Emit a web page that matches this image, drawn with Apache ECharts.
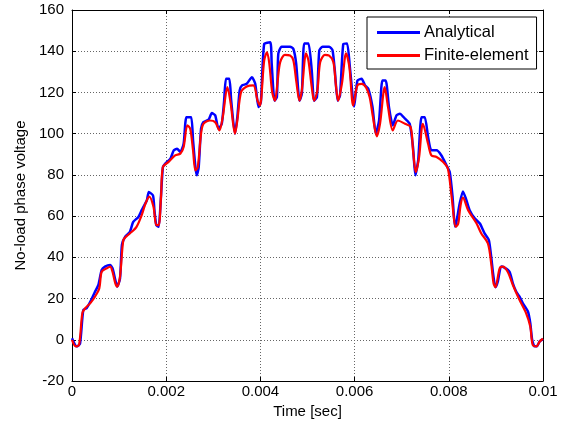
<!DOCTYPE html>
<html>
<head>
<meta charset="utf-8">
<script src="https://cdn.jsdelivr.net/npm/echarts@6/dist/echarts.min.js"></script>
<style>html,body{margin:0;padding:0;background:#fff}#c{width:569px;height:432px}</style>
</head>
<body>
<div id="c"></div>
<script>
var xTicks = [0, 0.002, 0.004, 0.006, 0.008, 0.01];
var yTicks = [-20, 0, 20, 40, 60, 80, 100, 120, 140, 160];

var analyticalT = [0.00000,0.00010,0.00017,0.00024,0.00031,0.00041,0.00049,0.00056,0.00063,0.00070,0.00081,0.00086,0.00092,0.00096,0.00102,0.00106,0.00113,0.00123,0.00130,0.00141,0.00148,0.00159,0.00163,0.00172,0.00175,0.00179,0.00184,0.00188,0.00193,0.00198,0.00209,0.00216,0.00223,0.00230,0.00237,0.00243,0.00253,0.00257,0.00262,0.00265,0.00269,0.00274,0.00279,0.00290,0.00297,0.00304,0.00311,0.00318,0.00323,0.00327,0.00334,0.00338,0.00346,0.00351,0.00356,0.00361,0.00371,0.00382,0.00389,0.00396,0.00401,0.00408,0.00421,0.00424,0.00430,0.00435,0.00438,0.00445,0.00463,0.00470,0.00476,0.00483,0.00488,0.00493,0.00502,0.00509,0.00514,0.00520,0.00525,0.00532,0.00546,0.00553,0.00558,0.00564,0.00569,0.00576,0.00584,0.00590,0.00599,0.00606,0.00615,0.00622,0.00629,0.00638,0.00645,0.00652,0.00659,0.00666,0.00673,0.00681,0.00689,0.00696,0.00707,0.00717,0.00724,0.00729,0.00735,0.00742,0.00749,0.00756,0.00763,0.00774,0.00784,0.00795,0.00802,0.00808,0.00813,0.00816,0.00823,0.00830,0.00837,0.00844,0.00855,0.00866,0.00876,0.00885,0.00890,0.00894,0.00899,0.00904,0.00911,0.00918,0.00929,0.00936,0.00943,0.00950,0.00957,0.00968,0.00973,0.00977,0.00982,0.00987,0.00993,0.01000];
var analyticalV = [0.8,-3.2,-2,14.5,15.3,19.4,23.4,26.6,33.9,35.5,36.3,34.7,29,25.8,29.8,46,50,52.4,57.2,59.6,62.9,67.7,71.7,70,62.9,55.6,54.8,66,83.8,85.5,87.9,91.9,92.7,91.1,95.1,108,108,96.8,83.8,79.8,83.8,102.4,105.6,106.8,110,108.9,102.4,104.8,116,126.6,126.6,116,100,108,121,123.4,124.2,127.4,124.2,112.9,115.3,143.5,144.3,133.9,116,117.7,138.7,142.2,142.2,141.1,133.9,116,119.4,143.8,143.8,130.6,116,117.7,140.3,142.2,142.2,140.6,130.6,116,118.5,143.5,143.8,132.2,113.2,125.8,126.6,123.4,121.8,112.9,100,106.4,125.8,125.8,112.9,104,108.9,109.7,107.3,104.8,93.5,79.8,87.1,108,108,98.4,91.9,91.9,89.5,84.7,81.4,69.3,55,57,66,72,68,63,58.9,56.4,51.6,48.4,40.3,32.2,25.5,28.2,35.5,35,33,27.4,23.4,21,17.8,13.7,8,0,-3.2,-3.2,-0.8,0.3];

var feT = [0.00000,0.00008,0.00015,0.00022,0.00028,0.00039,0.00049,0.00058,0.00063,0.00074,0.00081,0.00086,0.00092,0.00096,0.00102,0.00109,0.00116,0.00127,0.00137,0.00148,0.00156,0.00164,0.00173,0.00179,0.00184,0.00189,0.00193,0.00205,0.00219,0.00230,0.00237,0.00245,0.00251,0.00257,0.00262,0.00267,0.00274,0.00279,0.00293,0.00304,0.00313,0.00320,0.00330,0.00337,0.00346,0.00351,0.00359,0.00371,0.00385,0.00394,0.00399,0.00408,0.00414,0.00419,0.00425,0.00431,0.00436,0.00442,0.00452,0.00463,0.00470,0.00476,0.00483,0.00488,0.00497,0.00502,0.00509,0.00514,0.00521,0.00527,0.00537,0.00546,0.00555,0.00560,0.00565,0.00573,0.00582,0.00589,0.00597,0.00606,0.00615,0.00624,0.00632,0.00639,0.00647,0.00654,0.00664,0.00671,0.00681,0.00692,0.00707,0.00719,0.00724,0.00730,0.00737,0.00745,0.00756,0.00763,0.00774,0.00788,0.00798,0.00806,0.00815,0.00820,0.00825,0.00830,0.00841,0.00859,0.00869,0.00883,0.00890,0.00895,0.00899,0.00908,0.00915,0.00925,0.00936,0.00950,0.00964,0.00973,0.00978,0.00986,0.00993,0.01000];
var feV = [0,-3.2,-2.4,12.9,15.3,17.8,21,25,33,34.7,35.5,33,27.4,25.8,30.6,48.4,50.3,52.4,54.8,60.5,66.1,69.5,64.5,55.6,55.6,69.3,83.8,86.3,89.5,90.3,93.5,104,102.4,91.9,82.2,83.8,100,104.8,106.4,105.6,101.6,108,122.6,114.5,100,106.4,120.2,122.9,123.4,116,113.7,135.5,139.5,133.9,120.2,116,124.2,134.7,138.2,137.9,135.5,125.8,116,121,139,135.5,122.6,116,121,134.7,138.2,137.9,134.7,124.2,116,124.2,139,132.2,113.7,123.4,124.2,122.6,117.7,108,98.7,104.8,122.6,112.9,101.6,106.4,104.8,103.2,91.9,81.4,88.7,104.8,95.1,89.5,88.7,86.3,83.1,69.3,54.8,56.4,65.3,69,62.9,56.4,51.6,46.8,37.1,27.4,25.5,34.7,35.5,33,26.6,19.4,12.9,6.4,-2.4,-3.2,-0.8,0.5];

function pairs(t, v) { return t.map(function (x, i) { return [x, v[i]]; }); }

var FONT = 'Liberation Sans, Arial, sans-serif';
var chart = echarts.init(document.getElementById('c'), null, {renderer: 'canvas'});
var gridLine = {show: true, lineStyle: {color: '#666', type: [1, 2], width: 1}};
chart.setOption({
  animation: false,
  backgroundColor: '#fff',
  grid: {left: 72, right: 26, top: 10, bottom: 51, containLabel: false},
  legend: {
    orient: 'vertical', left: 367, top: 17,
    padding: [7, 8, 5, 10], itemGap: 6, itemWidth: 43, itemHeight: 3,
    icon: 'rect', backgroundColor: '#fff', borderColor: '#000', borderWidth: 1,
    textStyle: {fontFamily: FONT, fontSize: 16.5, color: '#000', padding: [0, 0, 0, -1]},
    data: ['Analytical', 'Finite-element']
  },
  xAxis: [{
    type: 'value', min: xTicks[0], max: xTicks[xTicks.length - 1], interval: 0.002,
    name: 'Time [sec]', nameLocation: 'middle', nameGap: 18,
    nameTextStyle: {fontFamily: FONT, fontSize: 15, color: '#000'},
    axisLine: {show: true, onZero: false, lineStyle: {color: '#000', width: 1}},
    axisTick: {show: true, inside: true, length: 4, lineStyle: {color: '#000'}},
    axisLabel: {fontFamily: FONT, fontSize: 15, color: '#000', margin: 3,
      formatter: function (v) { return String(+v.toFixed(3)); }},
    splitLine: gridLine
  }, {
    type: 'value', position: 'top', min: xTicks[0], max: xTicks[xTicks.length - 1], interval: 0.002,
    axisLine: {show: true, onZero: false, lineStyle: {color: '#000', width: 1}},
    axisTick: {show: true, inside: true, length: 4, lineStyle: {color: '#000'}},
    axisLabel: {show: false}, splitLine: {show: false}
  }],
  yAxis: [{
    type: 'value', min: yTicks[0], max: yTicks[yTicks.length - 1], interval: 20,
    name: 'No-load phase voltage', nameLocation: 'middle', nameGap: 43,
    nameTextStyle: {fontFamily: FONT, fontSize: 15, color: '#000'},
    axisLine: {show: true, onZero: false, lineStyle: {color: '#000', width: 1}},
    axisTick: {show: true, inside: true, length: 4, lineStyle: {color: '#000'}},
    axisLabel: {fontFamily: FONT, fontSize: 15, color: '#000', margin: 8},
    splitLine: gridLine
  }, {
    type: 'value', position: 'right', min: yTicks[0], max: yTicks[yTicks.length - 1], interval: 20,
    axisLine: {show: true, onZero: false, lineStyle: {color: '#000', width: 1}},
    axisTick: {show: true, inside: true, length: 4, lineStyle: {color: '#000'}},
    axisLabel: {show: false}, splitLine: {show: false}
  }],
  series: [{
    name: 'Analytical', type: 'line', xAxisIndex: 0, yAxisIndex: 0,
    data: pairs(analyticalT, analyticalV), symbol: 'none', smooth: 0.2,
    lineStyle: {color: '#0000ff', width: 2.5}, itemStyle: {color: '#0000ff'}
  }, {
    name: 'Finite-element', type: 'line', xAxisIndex: 0, yAxisIndex: 0,
    data: pairs(feT, feV), symbol: 'none', smooth: 0.3,
    lineStyle: {color: '#ff0000', width: 2.2}, itemStyle: {color: '#ff0000'}
  }]
});
</script>
</body>
</html>
